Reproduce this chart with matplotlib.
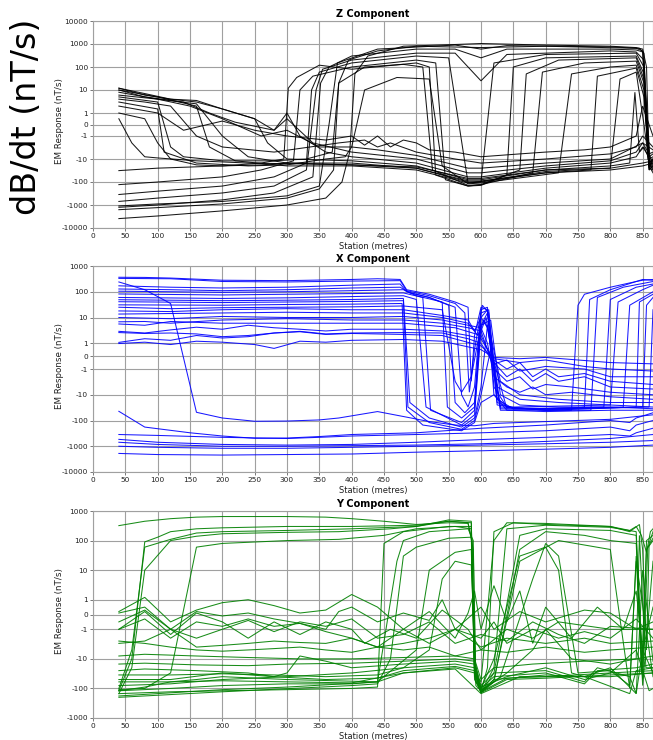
import matplotlib
matplotlib.use("Agg")
import matplotlib.pyplot as plt
from matplotlib.ticker import NullLocator

# ---------------- data (station in metres, response in nT/s) ----------------
x_ticks = list(range(0, 851, 50))
z_yticks = [10000, 1000, 100, 10, 1, 0, -1, -10, -100, -1000, -10000]
x_yticks = [1000, 100, 10, 1, 0, -1, -10, -100, -1000, -10000]
y_yticks = [1000, 100, 10, 1, 0, -1, -10, -100, -1000]

z_series = [
    [(40,-3900),(100,-3000),(200,-1800),(300,-1000),(360,-500),(385,-100),(397,-5),(405,50),(425,300),(480,800),(560,950),(600,1050),(700,900),(800,800),(840,700),(850,600),(856,100),(860,-20),(866,-40)],
    [(40,-1600),(100,-1300),(200,-900),(300,-500),(350,-200),(372,-30),(380,20),(395,200),(440,500),(500,800),(600,700),(700,800),(840,650),(850,500),(858,0),(862,-20),(866,-10)],
    [(40,-1100),(100,-900),(200,-700),(300,-400),(350,-150),(365,0),(378,150),(440,600),(560,900),(600,600),(640,850),(800,750),(845,650),(852,400),(858,-10),(866,-30)],
    [(40,-1260),(100,-1000),(200,-600),(280,-300),(340,-60),(352,20),(365,100),(400,300),(500,600),(560,600),(600,250),(640,600),(800,600),(840,550),(850,450),(858,-5),(866,-15)],
    [(40,-700),(100,-500),(200,-300),(280,-150),(330,-30),(345,10),(355,80),(400,200),(500,400),(560,400),(600,25),(640,350),(800,500),(840,450),(852,200),(860,-10),(866,-20)],
    [(40,-350),(100,-250),(200,-150),(280,-60),(330,-15),(338,10),(350,60),(400,150),(500,300),(550,250),(580,-110),(600,-100),(620,150),(700,350),(840,400),(852,100),(860,-20),(866,-25)],
    [(40,-130),(100,-100),(200,-60),(260,-30),(310,-12),(320,10),(340,40),(400,100),(500,200),(530,150),(545,-80),(580,-150),(600,-140),(640,-50),(650,100),(700,250),(840,300),(852,50),(860,-25),(866,-30)],
    [(40,-32),(100,-25),(200,-20),(260,-15),(295,-10),(302,12),(315,35),(350,120),(400,80),(500,150),(520,100),(530,-50),(580,-150),(600,-130),(660,-30),(670,50),(720,200),(840,250),(852,30),(860,-30),(866,-20)],
    [(40,5),(100,3),(120,-3),(140,-8),(200,-12),(280,-12),(330,-10),(370,-5),(380,20),(420,100),(480,130),(510,100),(525,-30),(580,-140),(600,-130),(680,-40),(695,60),(760,150),(840,180),(852,20),(860,-30),(866,-20)],
    [(40,3),(100,1.5),(110,-5),(160,-15),(240,-20),(300,-18),(360,-10),(390,-8),(400,-3),(420,10),(470,35),(520,30),(540,-20),(580,-120),(600,-110),(720,-40),(740,50),(800,100),(840,120),(852,10),(860,-25),(866,-15)],
    [(40,10),(100,5),(160,2),(180,-3),(220,-12),(300,-20),(400,-20),(500,-30),(580,-110),(600,-100),(700,-40),(770,-30),(780,40),(840,90),(852,5),(860,-20),(866,-10)],
    [(40,8),(100,4),(160,2.5),(200,-1),(240,-8),(300,-15),(400,-15),(500,-25),(580,-100),(600,-95),(700,-35),(800,-25),(815,30),(840,60),(852,0),(860,-15),(866,-10)],
    [(40,12),(80,7),(120,4),(160,3.5),(200,1.5),(250,0.5),(270,-2),(300,-10),(400,-12),(500,-20),(580,-80),(600,-80),(700,-30),(800,-20),(830,-15),(838,8),(845,-5),(852,-3),(860,-10),(866,-8)],
    [(40,12),(80,6),(120,4),(160,3),(200,1.5),(250,0.5),(280,-0.5),(300,1),(320,-1),(360,-5),(400,-8),(500,-15),(580,-60),(600,-60),(700,-25),(800,-15),(840,-8),(850,-3),(860,-8),(866,-6)],
    [(40,10),(80,5),(140,3),(180,1),(220,0.2),(280,-0.5),(300,0.5),(340,-2),(400,-5),(500,-10),(580,-40),(600,-40),(700,-20),(800,-12),(840,-5),(850,-2),(860,-6),(866,-5)],
    [(40,6),(100,4),(150,2),(200,0.5),(260,-1),(300,-0.5),(350,-3),(400,-3),(440,-4),(500,-7),(580,-25),(600,-25),(700,-15),(800,-10),(850,-2),(866,-4)],
    [(40,4),(80,3),(120,2),(160,-1),(200,-3),(280,-5),(380,-2),(420,-1.5),(440,-3),(460,-2),(500,-5),(560,-10),(600,-15),(700,-10),(800,-6),(840,-3),(850,-1),(866,-3)],
    [(40,2),(100,1),(140,-0.5),(200,0.3),(250,-0.5),(300,-1),(360,-1.5),(400,-1),(420,-2.5),(440,-1),(460,-3),(480,-1.5),(500,-2),(520,-4),(560,-5),(600,-8),(660,-6),(700,-5),(760,-4),(800,-3),(840,-1),(850,2),(866,-1)],
    [(40,1),(80,0.5),(100,-2),(120,-10),(160,-18),(200,-20),(260,-18),(300,-15),(400,-18),(500,-25),(580,-90),(600,-90),(700,-40),(800,-30),(850,-20),(866,-15)],
    [(40,0.5),(60,-2),(80,-8),(100,-9),(160,-12),(240,-15),(300,-16),(400,-18),(500,-22),(580,-70),(600,-70),(700,-30),(800,-25),(850,-15),(866,-12)],
]

x_series = [
    [(40,365),(80,360),(120,340),(200,280),(300,270),(400,300),(440,320),(475,300),(485,120),(520,80),(560,40),(580,25),(585,-3),(590,2),(600,25),(610,20),(620,-10),(640,-30),(700,-40),(740,-40),(750,30),(760,80),(800,150),(840,250),(850,280),(866,300)],
    [(40,330),(120,320),(200,250),(300,240),(400,260),(475,270),(485,110),(520,70),(560,35),(575,15),(582,-8),(590,0.5),(602,30),(612,15),(625,-20),(650,-35),(740,-35),(760,-30),(768,50),(800,120),(850,300),(866,280)],
    [(40,170),(120,150),(200,140),(300,150),(400,180),(475,200),(485,100),(520,60),(560,25),(570,-10),(580,-30),(590,-5),(600,20),(610,25),(620,-5),(640,-30),(700,-40),(770,-40),(780,60),(820,150),(866,250)],
    [(40,128),(120,120),(200,110),(300,120),(400,140),(475,150),(490,90),(520,60),(550,30),(560,-20),(575,-50),(590,-20),(600,15),(612,20),(625,-15),(650,-35),(790,-30),(800,50),(840,150),(866,200)],
    [(40,105),(120,100),(200,95),(300,100),(400,110),(480,120),(500,70),(540,40),(548,-30),(570,-80),(590,-30),(600,10),(610,20),(625,-25),(650,-30),(800,-25),(812,40),(850,120),(866,180)],
    [(40,82),(200,75),(300,80),(400,85),(480,90),(510,60),(522,-40),(570,-120),(590,-40),(600,5),(610,15),(630,-30),(700,-35),(820,-30),(830,30),(866,100)],
    [(40,60),(200,55),(300,58),(400,65),(480,70),(500,50),(515,-30),(570,-150),(590,-60),(600,3),(608,10),(630,-35),(700,-38),(840,-30),(845,40),(866,80)],
    [(40,49),(200,45),(300,47),(400,50),(480,55),(490,-20),(520,-80),(570,-180),(590,-80),(600,-5),(610,5),(630,-40),(700,-40),(850,-30),(856,30),(866,60)],
    [(40,41),(200,38),(300,40),(400,42),(480,45),(487,-30),(520,-120),(570,-220),(590,-100),(600,-10),(615,0.5),(640,-35),(700,-35),(860,-30),(866,20)],
    [(40,31),(200,30),(300,32),(400,33),(478,35),(485,-40),(510,-150),(570,-250),(590,-120),(600,-20),(620,-10),(640,-40),(700,-45),(800,-40),(866,-40)],
    [(40,25),(120,22),(200,24),(300,25),(400,26),(480,28),(540,20),(560,-3),(570,-8),(585,-2),(600,5),(615,8),(630,-10),(660,-25),(720,-30),(800,-30),(866,-35)],
    [(40,18),(120,17),(200,20),(300,22),(400,20),(480,20),(540,12),(580,8),(590,3),(600,10),(610,4),(625,-5),(660,-15),(720,-20),(800,-25),(866,-30)],
    [(40,13.6),(200,15),(300,16),(400,15),(480,15),(540,10),(580,6),(595,2),(605,8),(615,2),(630,-3),(660,-10),(720,-15),(800,-20),(866,-20)],
    [(40,10),(120,9),(200,11),(300,10),(400,10),(480,11),(540,8),(580,5),(600,4),(610,1),(620,-2),(640,-5),(660,-8),(680,-5),(700,-10),(740,-8),(800,-12),(866,-15)],
    [(40,6.8),(80,7),(120,6),(200,8),(300,9),(400,8),(480,8),(540,6),(580,4),(600,3),(620,-1),(640,-3),(660,-2),(680,-6),(700,-4),(740,-5),(800,-8),(866,-10)],
    [(40,5.6),(80,5),(120,7),(200,6),(300,6),(400,6),(480,6),(560,4),(600,2),(620,-0.5),(640,-2),(660,-1),(680,-3),(700,-1.5),(720,-3),(760,-2),(800,-5),(866,-6)],
    [(40,2.9),(80,2.5),(120,3.3),(160,4.2),(200,3.5),(240,5),(280,4),(320,3.5),(360,3),(400,3.5),(480,3.5),(540,3),(580,2),(600,1.5),(620,-0.3),(640,-1),(660,-0.5),(680,-2),(700,-1),(720,-2),(760,-1.5),(800,-3),(866,-4)],
    [(40,2.6),(80,2.4),(120,2.5),(160,2.3),(200,1.8),(240,2),(280,2.5),(320,2.9),(360,2.3),(400,2.5),(480,2.6),(540,2.5),(580,1.5),(600,1),(620,-0.6),(640,-0.3),(660,-1.2),(700,-0.8),(760,-1),(800,-2),(866,-2)],
    [(40,1.08),(80,1.5),(120,1.3),(160,2),(200,1.6),(240,1.8),(280,2.5),(320,2.8),(360,2.2),(400,2.4),(480,2.2),(540,2),(600,0.8),(620,-0.2),(660,-0.5),(700,-0.3),(760,-0.8),(800,-1),(866,-1.2)],
    [(40,0.98),(80,1.1),(120,0.9),(160,1.2),(200,1.1),(250,0.9),(280,0.6),(320,1.2),(360,1.1),(400,1.3),(480,1.4),(540,1.2),(600,0.5),(620,-0.1),(660,-0.2),(700,-0.1),(800,-0.5),(866,-0.6)],
    [(40,240),(80,120),(120,35),(160,-48),(200,-80),(250,-107),(300,-105),(350,-95),(380,-80),(440,-45),(480,-70),(520,-110),(560,-150),(590,-160),(620,-130),(700,-110),(800,-90),(866,-60)],
    [(40,-44),(80,-180),(150,-300),(200,-400),(250,-490),(300,-480),(350,-420),(400,-350),(500,-300),(600,-200),(700,-150),(800,-100),(830,-120),(840,-80),(866,-50)],
    [(40,-350),(100,-380),(200,-450),(300,-500),(350,-450),(400,-400),(500,-350),(600,-300),(700,-250),(800,-180),(830,-250),(840,-150),(866,-100)],
    [(40,-540),(100,-700),(200,-850),(300,-900),(400,-850),(500,-700),(600,-550),(700,-450),(800,-350),(830,-400),(840,-300),(866,-200)],
    [(40,-700),(100,-850),(200,-1000),(300,-1000),(400,-950),(500,-900),(600,-800),(700,-650),(800,-500),(866,-350)],
    [(40,-1000),(100,-1100),(200,-1200),(300,-1200),(400,-1100),(500,-1000),(600,-900),(700,-800),(800,-700),(866,-600)],
    [(40,-1900),(100,-2100),(200,-2200),(300,-2100),(400,-2000),(500,-1700),(600,-1500),(700,-1300),(800,-1100),(866,-900)],
]

y_series = [
    [(40,320),(80,450),(120,550),(160,620),(200,650),(300,650),(360,620),(400,550),(450,450),(500,350),(550,400),(580,380),(586,100),(590,-30),(600,-60),(620,100),(640,400),(700,380),(760,330),(800,300),(830,220),(840,300),(848,150),(856,40),(862,200),(866,250)],
    [(40,-120),(60,-10),(80,90),(100,130),(120,200),(160,250),(200,270),(300,300),(400,300),(500,330),(550,450),(580,400),(588,50),(592,-80),(600,-120),(610,-20),(620,200),(650,400),(700,350),(800,300),(830,200),(845,350),(850,50),(856,-5),(860,80),(866,200)],
    [(40,-100),(60,-5),(80,60),(120,110),(160,180),(200,200),(300,220),(400,250),(500,300),(550,500),(585,450),(590,-50),(600,-130),(620,-20),(640,250),(700,330),(800,280),(840,200),(850,-20),(856,100),(866,150)],
    [(40,-150),(60,-20),(80,10),(120,100),(160,140),(200,170),(300,190),(380,200),(460,250),(500,300),(550,450),(585,400),(590,-20),(600,-140),(620,-30),(660,150),(700,250),(800,220),(840,150),(848,-30),(856,50),(866,100)],
    [(40,-110),(80,-100),(120,-30),(160,60),(200,80),(300,100),(380,110),(450,150),(500,250),(560,300),(585,250),(590,-30),(600,-120),(620,-60),(660,50),(700,200),(760,150),(800,100),(840,80),(850,-50),(858,60),(866,120)],
    [(40,-150),(120,-130),(200,-120),(300,-110),(400,-100),(440,-90),(450,80),(480,200),(550,300),(585,300),(590,-10),(600,-140),(620,-50),(660,20),(720,100),(800,50),(830,-100),(840,30),(850,-80),(866,20)],
    [(40,-120),(120,-100),(200,-80),(300,-70),(400,-70),(440,-60),(470,20),(480,100),(520,200),(580,250),(588,100),(592,-60),(600,-100),(620,-10),(660,30),(700,60),(720,10),(740,-30),(760,-40),(800,-20),(840,-150),(850,-5),(866,-30)],
    [(40,-200),(200,-130),(400,-80),(440,-70),(460,-10),(480,30),(500,60),(550,120),(585,130),(590,-40),(600,-140),(630,-40),(680,5),(700,80),(720,30),(750,-30),(800,-25),(830,-80),(840,20),(866,-40)],
    [(40,-180),(200,-110),(300,-90),(440,-60),(500,-5),(520,10),(560,40),(585,50),(590,-20),(600,-120),(640,-30),(680,-5),(700,-1),(740,-10),(800,-15),(840,-10),(845,150),(855,-20),(866,-20)],
    [(40,-80),(120,-70),(200,-50),(300,-40),(400,-30),(480,-20),(520,-5),(540,5),(560,20),(585,15),(592,-30),(600,-90),(640,-40),(700,-20),(760,-50),(800,-30),(840,-5),(860,-120),(866,-100)],
    [(40,0.2),(80,1.2),(120,-0.5),(160,0.3),(200,0.8),(240,1),(280,0.6),(320,0.1),(360,0.3),(400,1.5),(440,0.5),(480,-1),(520,0.2),(560,-2),(580,0.1),(590,2),(600,-1),(620,3),(640,-0.5),(660,2),(680,-3),(700,0.5),(740,-2),(780,0.5),(820,-1),(840,2),(850,-5),(866,0.5)],
    [(40,0.1),(80,0.5),(120,-1),(160,0.2),(200,-0.1),(240,0.1),(280,-0.3),(320,-0.6),(360,-1),(380,0.2),(400,0.5),(440,-0.5),(480,0.1),(520,-0.4),(540,1),(560,-1),(600,0.5),(620,-1),(660,0.2),(700,-0.5),(760,0.3),(800,0.1),(840,-1),(866,-0.5)],
    [(40,-1),(80,0.2),(120,-1.5),(160,0.1),(200,-0.5),(240,-2),(280,-0.5),(320,-1.5),(360,-0.5),(400,-1),(420,-3),(460,-1),(500,-2),(540,0.3),(580,-1),(600,-5),(640,-1),(680,-2),(720,-0.5),(800,-1),(866,-1)],
    [(40,-1),(80,-0.3),(120,-2),(160,-0.5),(200,-0.8),(240,-0.3),(280,-0.8),(320,-0.6),(360,-1.2),(400,-2),(440,-4),(480,-1),(520,-3),(560,-1),(600,-2),(620,-0.5),(640,-3),(680,-1),(720,-2),(760,-1.2),(800,-2),(840,-0.3),(866,-2)],
    [(40,-0.5),(80,0.3),(120,-1),(160,-2),(200,-1),(240,-0.4),(280,-1.2),(320,-0.5),(360,-0.8),(400,-0.3),(440,-2),(480,-1.5),(520,-0.5),(560,-3),(600,-1.5),(640,-2.5),(680,-0.5),(720,-1.5),(760,-3),(800,-0.8),(866,-1)],
    [(40,-3),(80,-2.5),(120,-1),(160,-4),(200,-3.5),(240,-3),(280,-2.5),(320,-2.8),(360,-3),(400,-2),(440,-4),(480,-3),(520,-2),(560,-1),(600,-4),(640,-2),(700,-3),(760,-2),(800,-3),(866,-2.5)],
    [(40,-2.5),(80,-3),(120,-4),(160,-5),(200,-5.5),(240,-5),(280,-4.5),(320,-4),(360,-5),(400,-6),(440,-4),(480,-5),(520,-4),(560,-8),(600,-5),(640,-6),(700,-4),(760,-6),(800,-5),(866,-4)],
    [(40,-8),(80,-7),(160,-8),(240,-9),(320,-10),(400,-10),(480,-9),(560,-8),(590,-10),(600,-50),(620,-20),(680,-15),(760,-12),(840,-10),(866,-8)],
    [(40,-15),(80,-14),(160,-16),(240,-17),(300,-15),(400,-14),(480,-12),(560,-10),(590,-12),(600,-80),(620,-30),(700,-25),(760,-60),(780,-20),(830,-40),(840,-150),(850,10),(866,-12)],
    [(40,-25),(80,-22),(160,-25),(240,-30),(280,-40),(300,-30),(320,-8),(360,-12),(400,-20),(480,-15),(560,-12),(590,-15),(600,-100),(620,-40),(700,-30),(760,-70),(780,-25),(840,-20),(866,-15)],
    [(40,-35),(120,-35),(200,-32),(280,-35),(360,-40),(440,-35),(480,-20),(560,-15),(590,-20),(600,-120),(620,-50),(700,-35),(760,-40),(830,-150),(840,-25),(866,-20)],
    [(40,-50),(120,-50),(200,-30),(280,-40),(360,-50),(440,-45),(480,-25),(560,-18),(590,-25),(600,-130),(640,-45),(700,-40),(800,-30),(866,-25)],
    [(40,-60),(120,-60),(200,-55),(300,-60),(400,-65),(480,-30),(560,-20),(590,-30),(600,-140),(640,-50),(700,-45),(800,-35),(866,-30)],
    [(40,-120),(80,-90),(120,-60),(160,-50),(200,-40),(300,-50),(440,-60),(480,-30),(560,-22),(600,-150),(660,-40),(800,-40),(866,-30)],
]

# ---------------- figure ----------------
W, H = 653, 740
fig = plt.figure(figsize=(W / 100, H / 100), dpi=100)
fig.patch.set_facecolor("white")

panels = [
    ("Z Component", z_series, z_yticks, "#000000", 21, 228),
    ("X Component", x_series, x_yticks, "#0000ff", 266, 472),
    ("Y Component", y_series, y_yticks, "#008000", 511, 718),
]
left_px, right_px = 93, 653
grid_col = "#a0a0a0"

for title, series, yt, col, top_px, bot_px in panels:
    rect = [left_px / W, 1 - bot_px / H, (right_px - left_px) / W, (bot_px - top_px) / H]
    ax = fig.add_axes(rect)
    ax.set_yscale("symlog", linthresh=1, linscale=0.45)
    for s in series:
        xs = [p[0] for p in s]
        ys = [p[1] for p in s]
        ax.plot(xs, ys, color=col, lw=0.75, alpha=0.9, solid_joinstyle="miter")
    ax.set_xlim(0, 866)
    ax.set_ylim(min(yt), max(yt))
    ax.set_yticks(yt)
    ax.set_yticklabels([str(v) for v in yt])
    ax.yaxis.set_minor_locator(NullLocator())
    ax.set_xticks(x_ticks)
    ax.set_xticklabels([str(v) for v in x_ticks])
    ax.grid(True, color=grid_col, lw=0.8)
    ax.set_axisbelow(True)
    for sp in ax.spines.values():
        sp.set_color(grid_col)
        sp.set_linewidth(0.8)
    ax.tick_params(axis="both", labelsize=5.3, length=2.5, width=0.6,
                   color="#606060", pad=1.0, labelcolor="#202020")
    cx = (left_px + right_px) / 2
    fig.text(cx / W, 1 - (top_px - 7) / H, title, ha="center", va="center",
             fontsize=7, fontweight="bold")
    fig.text(cx / W, 1 - (bot_px + 19) / H, "Station (metres)", ha="center",
             va="center", fontsize=6, color="#202020")
    fig.text(60 / W, 1 - ((top_px + bot_px) / 2 - 3) / H, "EM Response (nT/s)",
             rotation=90, ha="center", va="center", fontsize=6.3, color="#202020")

fig.text(27 / W, 1 - 117 / H, "dB/dt (nT/s)", rotation=90, ha="center",
         va="center", fontsize=24)

fig.savefig("out.png", dpi=100, facecolor="white")
